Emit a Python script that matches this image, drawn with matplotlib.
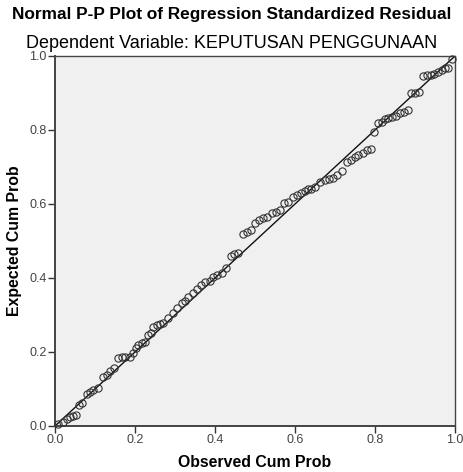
import matplotlib
matplotlib.use('Agg')
import matplotlib.pyplot as plt

plt.rcParams['font.family'] = ['Liberation Sans', 'DejaVu Sans']

# observed cumulative probability
observed = [0.008, 0.021, 0.029, 0.0375, 0.046, 0.052, 0.061, 0.067, 0.079, 0.0875,
            0.096, 0.108, 0.121, 0.129, 0.1375, 0.1475, 0.158, 0.167, 0.175, 0.1875,
            0.196, 0.2025, 0.208, 0.217, 0.225, 0.233, 0.241, 0.246, 0.254, 0.2625,
            0.271, 0.283, 0.294, 0.304, 0.317, 0.325, 0.333, 0.346, 0.354, 0.364,
            0.375, 0.3875, 0.396, 0.406, 0.417, 0.427, 0.439, 0.4475, 0.458, 0.469,
            0.479, 0.489, 0.5, 0.511, 0.521, 0.531, 0.542, 0.5525, 0.5625, 0.5725,
            0.583, 0.594, 0.604, 0.614, 0.625, 0.633, 0.641, 0.65, 0.6625, 0.675,
            0.686, 0.696, 0.706, 0.717, 0.729, 0.739, 0.75, 0.758, 0.769, 0.779,
            0.789, 0.7975, 0.808, 0.817, 0.825, 0.833, 0.842, 0.8525, 0.8625, 0.8725,
            0.883, 0.889, 0.9, 0.911, 0.921, 0.929, 0.939, 0.9475, 0.958, 0.967,
            0.975, 0.983, 0.992]
# expected cumulative probability
expected = [0.005, 0.012, 0.018, 0.023, 0.027, 0.030, 0.057, 0.061, 0.086, 0.093,
            0.097, 0.102, 0.133, 0.138, 0.150, 0.156, 0.183, 0.186, 0.186, 0.187,
            0.198, 0.21, 0.219, 0.223, 0.228, 0.246, 0.252, 0.267, 0.273, 0.276,
            0.279, 0.291, 0.305, 0.318, 0.332, 0.339, 0.349, 0.36, 0.369, 0.381,
            0.388, 0.393, 0.402, 0.408, 0.413, 0.428, 0.459, 0.465, 0.468, 0.519,
            0.525, 0.531, 0.548, 0.557, 0.561, 0.566, 0.575, 0.579, 0.584, 0.602,
            0.606, 0.620, 0.624, 0.629, 0.636, 0.64, 0.641, 0.645, 0.66, 0.665,
            0.668, 0.671, 0.678, 0.689, 0.714, 0.719, 0.726, 0.732, 0.737, 0.746,
            0.75, 0.794, 0.818, 0.822, 0.829, 0.832, 0.836, 0.838, 0.845, 0.849,
            0.854, 0.899, 0.901, 0.903, 0.946, 0.949, 0.949, 0.951, 0.958, 0.962,
            0.967, 0.967, 0.991]

ticks = [0.0, 0.2, 0.4, 0.6, 0.8, 1.0]
tick_labels = ['0.0', '0.2', '0.4', '0.6', '0.8', '1.0']

fig = plt.figure(figsize=(4.64, 4.72), dpi=100)
ax = fig.add_axes([55 / 464, 46 / 472, 400 / 464, 370 / 472])
ax.set_facecolor('#f0f0f0')

ax.plot([0, 1], [0, 1], color='#111111', linewidth=1.0, zorder=2)
ax.plot(observed, expected, linestyle='none', marker='o', markersize=5.2,
        markerfacecolor='none', markeredgecolor='#333333', markeredgewidth=0.8,
        zorder=3, clip_on=False)

ax.set_xlim(0, 1)
ax.set_ylim(0, 1)
ax.set_xticks(ticks)
ax.set_xticklabels(tick_labels)
ax.set_yticks(ticks)
ax.set_yticklabels(tick_labels)
ax.tick_params(direction='out', length=5, width=1, colors='#333333',
               labelsize=9, labelcolor='#444444', pad=1)
for side in ['left', 'bottom', 'top', 'right']:
    ax.spines[side].set_color('#444444')
    ax.spines[side].set_linewidth(1.0)
ax.spines['left'].set_linewidth(1.4)
ax.spines['bottom'].set_linewidth(1.4)

ax.set_xlabel('Observed Cum Prob', fontsize=11.4, fontweight='bold', labelpad=6)
ax.set_ylabel('Expected Cum Prob', fontsize=11.4, fontweight='bold', labelpad=5)

fig.text(0.5, 1 - 18.5 / 472, 'Normal P-P Plot of Regression Standardized Residual',
         ha='center', va='baseline', fontsize=12.4, fontweight='bold')
fig.text(0.5, 1 - 47.5 / 472, 'Dependent Variable: KEPUTUSAN PENGGUNAAN',
         ha='center', va='baseline', fontsize=13.0)

fig.savefig('out.png', dpi=100)
